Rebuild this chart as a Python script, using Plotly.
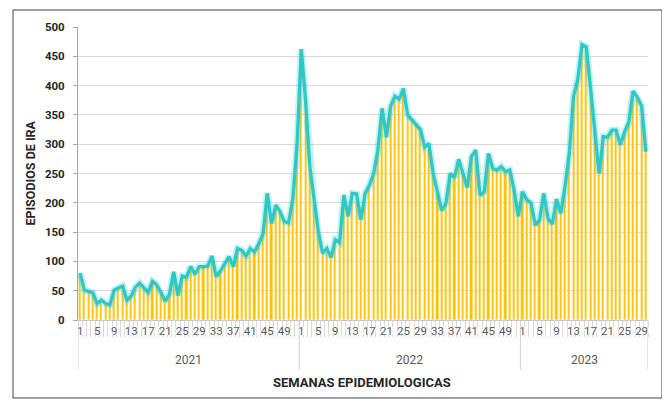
import plotly.graph_objects as go

# ---- data ----
years = ["2021", "2022", "2023"]
weeks_per_year = [52, 52, 30]

ira_2021 = [80, 51, 49, 46, 28, 34, 28, 26, 51, 55, 58, 34, 41, 56, 63, 55, 47, 66, 60, 47,
            32, 44, 82, 42, 75, 73, 91, 78, 91, 91, 92, 109, 74, 84, 96, 108, 91, 122, 119, 109,
            122, 116, 130, 147, 216, 165, 196, 185, 168, 166, 206, 300]
ira_2022 = [462, 375, 262, 202, 151, 114, 122, 107, 137, 132, 213, 177, 216, 215, 171, 216, 230, 250, 290, 361,
            312, 365, 382, 377, 395, 350, 342, 333, 325, 295, 301, 250, 216, 187, 199, 250, 243, 274, 250, 226,
            279, 290, 213, 219, 284, 259, 256, 262, 253, 256, 222, 177]
ira_2023 = [219, 205, 200, 162, 171, 216, 173, 164, 206, 182, 228, 284, 382, 411, 470, 466, 395, 324, 250, 313,
            312, 324, 324, 299, 321, 338, 391, 380, 365, 287]

week_tick_labels = ["1", "5", "9", "13", "17", "21", "25", "29", "33", "37", "41", "45", "49"]
y_ticks = [0, 50, 100, 150, 200, 250, 300, 350, 400, 450, 500]

# ---- build sequential positions ----
values = ira_2021 + ira_2022 + ira_2023
x = list(range(1, len(values) + 1))

tickvals, ticktext = [], []
offset = 0
year_bounds = [0.5]
year_centers = []
for yr, nw in zip(years, weeks_per_year):
    for lab in week_tick_labels:
        w = int(lab)
        if w <= nw:
            tickvals.append(offset + w)
            ticktext.append(lab)
    year_centers.append(offset + nw / 2 + 0.5)
    offset += nw
    year_bounds.append(offset + 0.5)

FONT = "Roboto, Arial, sans-serif"

fig = go.Figure()
fig.add_trace(go.Bar(
    x=x, y=values, width=0.5,
    marker=dict(color="#FFC000", line=dict(color="#FFE699", width=0.5)),
    showlegend=False, hoverinfo="skip"))
fig.add_trace(go.Scatter(
    x=x, y=values, mode="lines",
    line=dict(color="rgba(60,205,205,0.30)", width=7),
    showlegend=False, hoverinfo="skip"))
fig.add_trace(go.Scatter(
    x=x, y=values, mode="lines",
    line=dict(color="#2EC8C8", width=3.3),
    showlegend=False))

shapes = []
for b in year_bounds:
    shapes.append(dict(type="line", xref="x", yref="paper", x0=b, x1=b, y0=0, y1=-0.17,
                       line=dict(color="#d0d0d0", width=1)))
# outer frame (four sides)
fx0, fx1, fy0, fy1 = -0.114, 1.0246, -0.266, 1.058
for (a0, b0, a1, b1) in [(fx0, fy0, fx1, fy0), (fx0, fy1, fx1, fy1), (fx0, fy0, fx0, fy1), (fx1, fy0, fx1, fy1)]:
    shapes.append(dict(type="line", xref="paper", yref="paper", x0=a0, y0=b0, x1=a1, y1=b1,
                       line=dict(color="#404040", width=1)))

annotations = []
for yr, c in zip(years, year_centers):
    annotations.append(dict(x=c, y=-0.1365, xref="x", yref="paper", text=yr, showarrow=False,
                            font=dict(family=FONT, size=12, color="#595959"),
                            xanchor="center", yanchor="middle"))
annotations.append(dict(x=0.498, y=-0.215, xref="paper", yref="paper",
                        text="<b>SEMANAS EPIDEMIOLOGICAS</b>", showarrow=False,
                        font=dict(family=FONT, size=13, color="#262626"),
                        xanchor="center", yanchor="middle"))
annotations.append(dict(x=-0.084, y=0.50, xref="paper", yref="paper",
                        text="<b>EPISODIOS DE IRA</b>", showarrow=False, textangle=-90,
                        font=dict(family=FONT, size=12.5, color="#262626"),
                        xanchor="center", yanchor="middle"))

fig.update_layout(
    width=662, height=393,
    margin=dict(l=70, r=22, t=19, b=81),
    paper_bgcolor="white", plot_bgcolor="white",
    bargap=0, shapes=shapes, annotations=annotations,
    xaxis=dict(range=[0.5, len(values) + 0.5], tickmode="array", tickvals=tickvals, ticktext=ticktext,
               ticks="", showgrid=False, zeroline=False,
               showline=True, linecolor="#c8c8c8", linewidth=1,
               tickfont=dict(family=FONT, size=11.5, color="#595959",
                             shadow="2px 0 0 white, -2px 0 0 white, 1px 0 0 white, -1px 0 0 white"),
               minor=dict(tickmode="linear", tick0=0.5, dtick=1, ticks="outside", ticklen=16,
                          tickcolor="#d9d9d9", tickwidth=1, showgrid=False)),
    yaxis=dict(range=[0, 500], tickmode="array", tickvals=y_ticks,
               ticks="outside", ticklen=4, tickcolor="#a6a6a6",
               showline=True, linecolor="#a6a6a6", linewidth=1,
               showgrid=True, gridcolor="#d9d9d9", gridwidth=1.3, zeroline=False,
               ticklabelstandoff=6,
               tickfont=dict(family=FONT, size=11.5, color="#262626", weight="bold")),
)

fig.write_html("out.html")
